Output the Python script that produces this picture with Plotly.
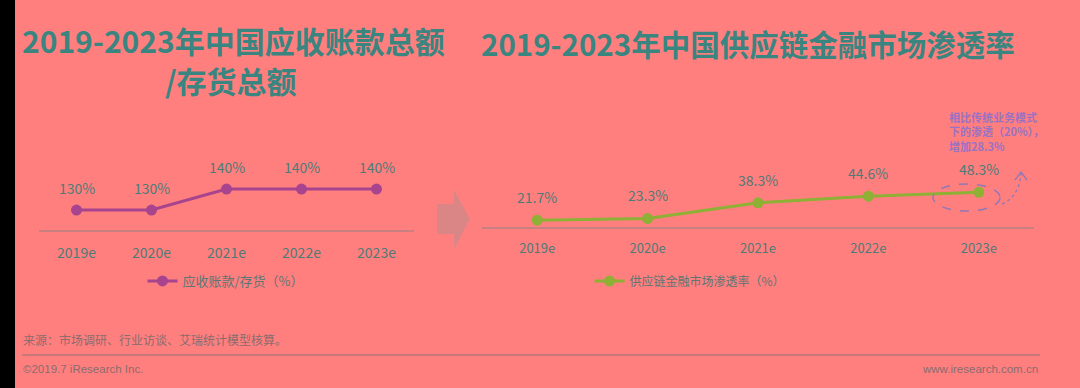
import plotly.graph_objects as go

# ---------------- data ----------------
years = ["2019e", "2020e", "2021e", "2022e", "2023e"]
ratio_values = [130, 130, 140, 140, 140]          # 应收账款/存货（%）
penetration_values = [21.7, 23.3, 38.3, 44.6, 48.3]  # 供应链金融市场渗透率（%）

title_left_1 = "2019-2023年中国应收账款总额"
title_left_2 = "/存货总额"
title_right = "2019-2023年中国供应链金融市场渗透率"
series_left = "应收账款/存货（%）"
series_right = "供应链金融市场渗透率（%）"
note_text = "相比传统业务模式<br>下的渗透（20%），<br>增加28.3%"
source_text = "来源：市场调研、行业访谈、艾瑞统计模型核算。"
copyright_text = "©2019.7 iResearch Inc."
site_text = "www.iresearch.com.cn"

W, H = 1080, 388
BG = "#FF7F7F"
TEAL = "#3A8580"
LABEL = "#4F7B76"
PURPLE = "#A8448E"
GREEN = "#8DB035"
CJK = "Noto Sans CJK SC"


def px(x, y):
    return x / W, 1 - y / H


fig = go.Figure()

fig.add_trace(go.Scatter(
    x=years, y=ratio_values, mode="lines+markers", name=series_left,
    line=dict(color=PURPLE, width=3), marker=dict(color=PURPLE, size=11),
    xaxis="x", yaxis="y", legend="legend", hoverinfo="skip"))
fig.add_trace(go.Scatter(
    x=years, y=penetration_values, mode="lines+markers", name=series_right,
    line=dict(color=GREEN, width=3), marker=dict(color=GREEN, size=11),
    xaxis="x2", yaxis="y2", legend="legend2", hoverinfo="skip"))

annotations = []
for yr, v in zip(years, ratio_values):
    annotations.append(dict(x=yr, y=v, xref="x", yref="y", text=f"{v}%",
                            showarrow=False, yshift=22,
                            font=dict(family=CJK, size=14, color=LABEL)))
for yr, v in zip(years, penetration_values):
    annotations.append(dict(x=yr, y=v, xref="x2", yref="y2", text=f"{v}%",
                            showarrow=False, yshift=23,
                            font=dict(family=CJK, size=14, color=LABEL)))

# titles
annotations.append(dict(x=233.5 / W, y=px(0, 40.5)[1], xref="paper", yref="paper",
                        text=f"<b>{title_left_1}</b>", showarrow=False,
                        xanchor="center", yanchor="middle",
                        font=dict(family=CJK, size=30, color=TEAL)))
annotations.append(dict(x=231 / W, y=px(0, 80)[1], xref="paper", yref="paper",
                        text=f"<b>{title_left_2}</b>", showarrow=False,
                        xanchor="center", yanchor="middle",
                        font=dict(family=CJK, size=30, color=TEAL)))
annotations.append(dict(x=748 / W, y=px(0, 43)[1], xref="paper", yref="paper",
                        text=f"<b>{title_right}</b>", showarrow=False,
                        xanchor="center", yanchor="middle",
                        font=dict(family=CJK, size=29.5, color=TEAL)))
# note
annotations.append(dict(x=947 / W, y=px(0, 131)[1], xref="paper", yref="paper",
                        text=f"<b>{note_text}</b>", showarrow=False,
                        xanchor="left", yanchor="middle", align="left",
                        font=dict(family=CJK, size=11, color="#9A72C2")))
# footer
annotations.append(dict(x=21 / W, y=px(0, 339)[1], xref="paper", yref="paper",
                        text=source_text, showarrow=False, xanchor="left", yanchor="middle",
                        font=dict(family=CJK, size=12, color="#8C6C6C")))
annotations.append(dict(x=21 / W, y=px(0, 369)[1], xref="paper", yref="paper",
                        text=copyright_text, showarrow=False, xanchor="left", yanchor="middle",
                        font=dict(family="Liberation Sans", size=11.5, color="#8C6C6C")))
annotations.append(dict(x=1040 / W, y=px(0, 369)[1], xref="paper", yref="paper",
                        text=site_text, showarrow=False, xanchor="right", yanchor="middle",
                        font=dict(family="Liberation Sans", size=11.5, color="#8C6C6C")))

shapes = []
# left black strip
shapes.append(dict(type="rect", xref="paper", yref="paper", x0=0, x1=15 / W, y0=0, y1=1,
                   fillcolor="black", line=dict(width=0), layer="above"))
# footer separator
shapes.append(dict(type="line", xref="paper", yref="paper", x0=22 / W, x1=1040 / W,
                   y0=px(0, 355)[1], y1=px(0, 355)[1], line=dict(color="#B57777", width=1.5)))


def path(points):
    s = ""
    for i, (x, y) in enumerate(points):
        xx, yy = px(x, y)
        s += ("M" if i == 0 else "L") + f"{xx:.5f},{yy:.5f} "
    return s + "Z"


# grey arrow between charts
shapes.append(dict(type="path", xref="paper", yref="paper",
                   path=path([(437, 204), (454, 204), (454, 190), (470, 219),
                              (454, 249), (454, 234), (437, 234)]),
                   fillcolor="rgba(150,150,150,0.35)", line=dict(width=0)))
# dashed ellipse around 2023e
ex0, ey0 = px(933, 184)
ex1, ey1 = px(1000, 211)
shapes.append(dict(type="circle", xref="paper", yref="paper", x0=ex0, x1=ex1, y0=ey1, y1=ey0,
                   line=dict(color="#8F78B8", width=1.5, dash="dash")))
# dashed curved arrow
a0 = px(1002, 204)
ac = px(1020, 196)
a1 = px(1021, 172)
shapes.append(dict(type="path", xref="paper", yref="paper",
                   path=f"M{a0[0]:.5f},{a0[1]:.5f} Q{ac[0]:.5f},{ac[1]:.5f} {a1[0]:.5f},{a1[1]:.5f}",
                   line=dict(color="#8F78B8", width=1.3, dash="dot")))
h0, h1, h2 = px(1015, 180), px(1021, 172), px(1027, 180)
shapes.append(dict(type="path", xref="paper", yref="paper",
                   path=f"M{h0[0]:.5f},{h0[1]:.5f} L{h1[0]:.5f},{h1[1]:.5f} L{h2[0]:.5f},{h2[1]:.5f}",
                   line=dict(color="#8F78B8", width=1.3)))

xaxis_common = dict(type="category", range=[-0.5, 4.5], showgrid=False, zeroline=False,
                    showline=True, linecolor="#C98080", linewidth=1.5,
                    ticks="outside", ticklen=9, tickcolor="rgba(0,0,0,0)",
                    fixedrange=True)
yaxis_common = dict(showgrid=False, zeroline=False, showticklabels=False, showline=False,
                    fixedrange=True)

fig.update_layout(
    width=W, height=H, margin=dict(l=0, r=0, t=0, b=0),
    paper_bgcolor=BG, plot_bgcolor=BG,
    xaxis=dict(domain=[39 / W, 414 / W], anchor="y",
               tickfont=dict(family=CJK, size=14, color=LABEL), **xaxis_common),
    yaxis=dict(domain=[px(0, 230)[1], px(0, 150)[1]], anchor="x",
               range=[120.5, 158.6], **yaxis_common),
    xaxis2=dict(domain=[482 / W, 1034 / W], anchor="y2",
                tickfont=dict(family=CJK, size=13, color=LABEL), **xaxis_common),
    yaxis2=dict(domain=[px(0, 227)[1], px(0, 150)[1]], anchor="x2",
                range=[15.2, 88.6], **yaxis_common),
    legend=dict(x=226 / W, y=px(0, 281)[1], xanchor="center", yanchor="middle",
                bgcolor="rgba(0,0,0,0)", font=dict(family=CJK, size=13, color="#5E7673"),
                itemwidth=30),
    legend2=dict(x=690 / W, y=px(0, 281)[1], xanchor="center", yanchor="middle",
                 bgcolor="rgba(0,0,0,0)", font=dict(family=CJK, size=12, color="#5E7673"),
                 itemwidth=30),
    annotations=annotations,
    shapes=shapes,
    showlegend=True,
)

fig.write_html("out.html", config={"displayModeBar": False},
               post_script="document.body.style.margin='0';document.body.style.background='#FF7F7F';")
